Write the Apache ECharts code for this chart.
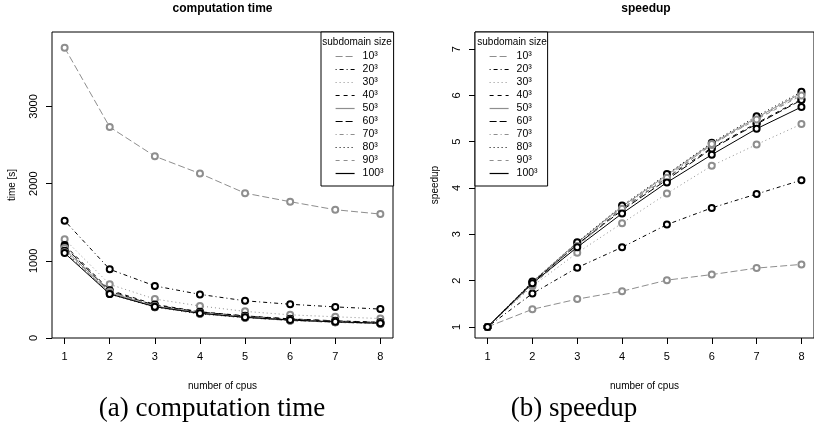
<!DOCTYPE html>
<html>
<head>
<meta charset="utf-8">
<script src="https://cdn.jsdelivr.net/npm/echarts@6/dist/echarts.min.js"></script>
<style>html,body{margin:0;padding:0;background:#fff}#c{width:814px;height:437px}</style>
</head>
<body>
<div id="c"></div>
<script>
// ---- data ----
const cpus = [1, 2, 3, 4, 5, 6, 7, 8];
const sizes = ['10³', '20³', '30³', '40³', '50³', '60³', '70³', '80³', '90³', '100³'];
const timeTicks = [0, 1000, 2000, 3000];
const speedTicks = [1, 2, 3, 4, 5, 6, 7];

// computation time [s]
const time10  = [3761, 2733, 2355, 2131, 1877, 1766, 1662, 1606];
const time20  = [1520, 890, 675, 565, 482, 437, 403, 375];
const time30  = [1280, 695, 505, 415, 345, 300, 275, 252];
const time40  = [1205, 620, 435, 340, 287, 248, 223, 204];
const time50  = [1150, 585, 410, 320, 270, 232, 208, 190];
const time60  = [1185, 605, 425, 337, 284, 245, 220, 201];
const time70  = [1165, 600, 415, 325, 275, 237, 212, 194];
const time80  = [1130, 570, 400, 313, 263, 227, 204, 186];
const time90  = [1110, 585, 405, 313, 263, 225, 203, 185];
const time100 = [1100, 570, 405, 320, 268, 233, 209, 192];

// speedup
const speed10  = [1, 1.38, 1.60, 1.77, 2.01, 2.13, 2.27, 2.35];
const speed20  = [1, 1.72, 2.28, 2.72, 3.21, 3.57, 3.87, 4.17];
const speed30  = [1, 1.88, 2.60, 3.24, 3.88, 4.48, 4.94, 5.38];
const speed40  = [1, 1.95, 2.78, 3.55, 4.22, 4.87, 5.40, 5.92];
const speed50  = [1, 1.97, 2.82, 3.60, 4.28, 4.96, 5.52, 6.05];
const speed60  = [1, 1.96, 2.78, 3.52, 4.18, 4.85, 5.38, 5.90];
const speed70  = [1, 1.93, 2.80, 3.58, 4.25, 4.93, 5.50, 6.02];
const speed80  = [1, 1.98, 2.83, 3.62, 4.30, 4.98, 5.55, 6.08];
const speed90  = [1, 1.90, 2.75, 3.55, 4.22, 4.95, 5.48, 6.00];
const speed100 = [1, 1.94, 2.72, 3.45, 4.12, 4.72, 5.28, 5.75];

const timeData = [time10, time20, time30, time40, time50, time60, time70, time80, time90, time100];
const speedData = [speed10, speed20, speed30, speed40, speed50, speed60, speed70, speed80, speed90, speed100];

// ---- styles ----
const GREY = '#8e8e8e', BLACK = '#000000';
const colors = [GREY, BLACK, GREY, BLACK, GREY, BLACK, GREY, BLACK, GREY, BLACK];
const LONGDASH = [7, 3], DOTDASH = [1, 3, 4, 3], DOTTED = [1, 3], DASHED = [4, 4];
const dashes = [LONGDASH, DOTDASH, DOTTED, DASHED, 'solid', LONGDASH, DOTDASH, DOTTED, DASHED, 'solid'];

const FONT = 'Liberation Sans, Arial, sans-serif';

function mkSeries(dataArr, axisIdx) {
  return sizes.map((name, i) => ({
    name: name,
    type: 'line',
    xAxisIndex: axisIdx,
    yAxisIndex: axisIdx,
    data: cpus.map((c, k) => [c, dataArr[i][k]]),
    symbol: 'emptyCircle',
    symbolSize: 6,
    showSymbol: true,
    animation: false,
    z: 2 + i * 0.01,
    lineStyle: { color: colors[i], width: 1, type: dashes[i] },
    itemStyle: { color: colors[i], borderColor: colors[i], borderWidth: colors[i] === BLACK ? 1.4 : 0.9 },
    emphasis: { disabled: true }
  }));
}

function xAxis(gi) {
  return {
    gridIndex: gi, type: 'value', min: 0.72, max: 8.28,
    name: 'number of cpus', nameLocation: 'middle', nameGap: 43,
    nameTextStyle: { fontFamily: FONT, fontSize: 10, color: '#000' },
    axisLine: { show: false },
    axisTick: { show: true, length: 6, lineStyle: { color: '#000' }, customValues: cpus },
    axisLabel: { fontFamily: FONT, fontSize: 11, color: '#000', margin: 13, customValues: cpus, formatter: v => String(v) },
    splitLine: { show: false }
  };
}

function yAxis(gi, min, max, ticks, name) {
  return {
    gridIndex: gi, type: 'value', min: min, max: max,
    name: name, nameLocation: 'middle', nameGap: 35,
    nameTextStyle: { fontFamily: FONT, fontSize: 10, color: '#000' },
    axisLine: { show: false },
    axisTick: { show: true, length: 6, lineStyle: { color: '#000' }, customValues: ticks },
    axisLabel: { fontFamily: FONT, fontSize: 11, color: '#000', margin: 13, rotate: 90, customValues: ticks, formatter: v => String(v) },
    splitLine: { show: false }
  };
}

function legend(left) {
  return {
    orient: 'vertical', left: left, top: 32,
    padding: [19, 10, 7, 14],
    itemWidth: 19, itemHeight: 10, itemGap: 2,
    data: sizes,
    selectedMode: false,
    backgroundColor: '#fff', borderColor: '#000', borderWidth: 1, borderRadius: 0,
    itemStyle: { opacity: 0 },
    lineStyle: { width: 1.2 },
    textStyle: { fontFamily: FONT, fontSize: 10.5, color: '#000', lineHeight: 10, padding: [0, 0, 0, 3] },
    z: 10
  };
}

const chart = echarts.init(document.getElementById('c'), null, { renderer: 'canvas' });
chart.setOption({
  animation: false,
  backgroundColor: '#fff',
  grid: [
    { left: 52, top: 32, width: 341, height: 306, show: true, borderColor: '#000', borderWidth: 1, backgroundColor: 'transparent' },
    { left: 475, top: 32, width: 342, height: 306, show: true, borderColor: '#000', borderWidth: 1, backgroundColor: 'transparent' }
  ],
  xAxis: [xAxis(0), xAxis(1)],
  yAxis: [
    yAxis(0, 0, 3965, timeTicks, 'time [s]'),
    yAxis(1, 0.76, 7.37, speedTicks, 'speedup')
  ],
  legend: [legend(321), legend(475)],
  graphic: [
    { type: 'text', x: 222.5, y: 9, z: 100, style: { text: 'computation time', font: 'bold 12px ' + FONT, fill: '#000', textAlign: 'center', textVerticalAlign: 'middle' } },
    { type: 'text', x: 646, y: 9, z: 100, style: { text: 'speedup', font: 'bold 12px ' + FONT, fill: '#000', textAlign: 'center', textVerticalAlign: 'middle' } },
    { type: 'text', x: 357, y: 42, z: 100, style: { text: 'subdomain size', font: '10px ' + FONT, fill: '#000', textAlign: 'center', textVerticalAlign: 'middle' } },
    { type: 'text', x: 512, y: 42, z: 100, style: { text: 'subdomain size', font: '10px ' + FONT, fill: '#000', textAlign: 'center', textVerticalAlign: 'middle' } },
    { type: 'text', x: 212, y: 409, z: 100, style: { text: '(a) computation time', font: '27px Liberation Serif, Times New Roman, serif', fill: '#000', textAlign: 'center', textVerticalAlign: 'middle' } },
    { type: 'text', x: 574, y: 409, z: 100, style: { text: '(b) speedup', font: '27px Liberation Serif, Times New Roman, serif', fill: '#000', textAlign: 'center', textVerticalAlign: 'middle' } }
  ],
  series: mkSeries(timeData, 0).concat(mkSeries(speedData, 1))
});
</script>
</body>
</html>
